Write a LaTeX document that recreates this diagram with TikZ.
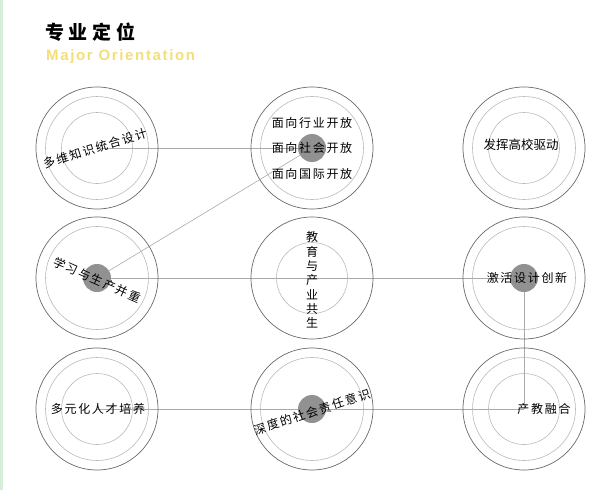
\documentclass[tikz,border=0pt]{standalone}
\usepackage{fontspec}
\usepackage{xcolor}
\usepackage{tikz}
\usetikzlibrary{backgrounds}
\newfontfamily\cjk{Noto Sans CJK SC}
\newfontfamily\cjkwide{Noto Sans CJK SC}[LetterSpace=14]
\newfontfamily\cjktitle{Noto Sans CJK SC}[LetterSpace=25]
\newfontfamily\entitle{Liberation Sans}[LetterSpace=11]
\definecolor{ringdark}{RGB}{105,105,105}
\definecolor{ringlight}{RGB}{185,185,185}
\definecolor{linkgray}{RGB}{170,170,170}
\definecolor{dotgray}{RGB}{145,145,145}
\definecolor{titleyellow}{RGB}{243,222,122}
\definecolor{sidegreen}{RGB}{214,237,216}
\tikzset{
  ringout/.style={circle, draw=ringdark, line width=0.7pt, minimum size=122pt, inner sep=0pt},
  ringmid/.style={circle, draw=ringlight, line width=0.6pt, minimum size=103pt, inner sep=0pt},
  ringin/.style={circle, draw=ringlight, line width=0.6pt, minimum size=71pt, inner sep=0pt},
  dot/.style={circle, fill=dotgray, minimum size=28pt, inner sep=0pt},
  link/.style={draw=linkgray, line width=0.6pt},
  lbl/.style={font=\cjkwide\fontsize{12}{14}\selectfont, inner sep=0pt},
  % 标题
  head/.style={anchor=west, inner sep=0pt}
}
\begin{document}
\begin{tikzpicture}[x=1pt, y=-1pt]
  \useasboundingbox (0,0) rectangle (613,490);
  \fill[sidegreen] (0,0) rectangle (3,490);
  \node[head, font=\cjktitle\bfseries\fontsize{19}{22}\selectfont] (title) at (45,32) {专业定位};
  \node[head, font=\entitle\bfseries\fontsize{15}{17}\selectfont, text=titleyellow] (subtitle) at (46,57) {Major Orientation};
  % 外圈
  \node[ringout] (c1) at (97,148) {};
  \node[ringout] (c2) at (312,148) {};
  \node[ringout] (c3) at (524,148) {};
  \node[ringout] (c4) at (97,278) {};
  \node[ringout] (c5) at (312,278) {};
  \node[ringout] (c6) at (524,278) {};
  \node[ringout] (c7) at (97,409) {};
  \node[ringout] (c8) at (312,409) {};
  \node[ringout] (c9) at (524,409) {};
  % 中圈
  \foreach \c in {c1,c2,c3,c4,c6,c7,c8,c9}
    \node[ringmid] (m\c) at (\c) {};
  % 内圈
  \foreach \c in {c1,c3,c5,c7,c9}
    \node[ringin] (i\c) at (\c) {};
  % 圆点
  \node[dot] (d2) at (c2) {};
  \node[dot] (d4) at (c4) {};
  \node[dot] (d6) at (c6) {};
  \node[dot] (d8) at (c8) {};
  % 连线
  \begin{scope}[on background layer]
    \draw[link] (c1.center) -- (d2.center);
    \draw[link] (d4.center) -- (d2.center);
    \draw[link] (d4.center) -- (d6.center);
    \draw[link] (d6.center) -- (c9.center);
    \draw[link] (c7.center) -- (c9.center);
  \end{scope}
  % 文字
  \node[lbl, rotate=17] (t1) at (95,148) {多维知识统合设计};
  \node[lbl] (t2a) at (312,123) {面向行业开放};
  \node[lbl] (t2b) at (312,148) {面向社会开放};
  \node[lbl] (t2c) at (312,174) {面向国际开放};
  \node[lbl, font=\cjk\fontsize{12.5}{14}\selectfont] (t3) at (521,145) {发挥高校驱动};
  \node[lbl, rotate=-24] (t4) at (97,280) {学习与生产并重};
  \node[lbl, align=center, font=\cjk\fontsize{12}{14.3}\selectfont] (t5) at (312,280) {教\\育\\与\\产\\业\\共\\生};
  \node[lbl] (t6) at (527,278) {激活设计创新};
  \node[lbl] (t7) at (98,409) {多元化人才培养};
  \node[lbl, rotate=18] (t8) at (312,412) {深度的社会责任意识};
  \node[lbl] (t9) at (544,409) {产教融合};
\end{tikzpicture}
\end{document}
